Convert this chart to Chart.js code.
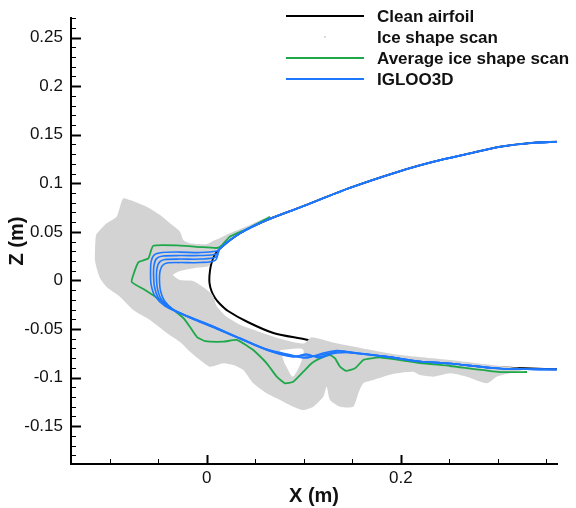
<!DOCTYPE html>
<html>
<head>
<meta charset="utf-8">
<script src="https://cdn.jsdelivr.net/npm/chart.js@4.4.1/dist/chart.umd.min.js"></script>
<style>
  html, body { margin: 0; padding: 0; background: #fff; }
  #wrap { width: 576px; height: 508px; }
</style>
</head>
<body>
<div id="wrap"><canvas id="iceChart" width="576" height="508"></canvas></div>
<script>
// Ejes (m)
const xLimits = [-0.14, 0.361];
const yLimits = [-0.189, 0.27];
const xLabelStep = 0.2;
const xMinorStep = 0.05;
const yLabelStep = 0.05;
const yMinorStep = 0.01;

const legendLabels = ["Clean airfoil", "Ice shape scan", "Average ice shape scan", "IGLOO3D"];

// Perfil limpio [x, z]
const cleanAirfoil = [
    [0.361, 0.1427], [0.3367, 0.1417], [0.3023, 0.1376], [0.268, 0.1301], [0.2336, 0.1222],
    [0.199, 0.1125], [0.148, 0.0955], [0.096, 0.0752], [0.062, 0.0622], [0.034, 0.0485],
    [0.0136, 0.033], [0.0074, 0.0251], [0.0043, 0.0158], [0.0028, 0.0056], [0.0028, -0.0027],
    [0.0048, -0.0109], [0.0085, -0.0181], [0.0136, -0.0243], [0.0219, -0.0315], [0.0411, -0.0423],
    [0.0686, -0.0541], [0.102, -0.0608], [0.15, -0.0715], [0.2, -0.0805], [0.25, -0.0858],
    [0.3, -0.0895], [0.361, -0.0915],
];

// Contorno del escaneo de hielo
const iceScanOutline = [
    [0.0600, 0.0642], [0.0394, 0.0549], [0.0219, 0.0477], [0.0136, 0.0436], [0.0064, 0.0405],
    [-0.0001, 0.0372], [-0.0173, 0.0382], [-0.0242, 0.0416], [-0.0276, 0.0501], [-0.0379, 0.0588],
    [-0.0482, 0.0673], [-0.0620, 0.0758], [-0.0792, 0.0827], [-0.0861, 0.0845], [-0.0895, 0.0758],
    [-0.0929, 0.0656], [-0.1032, 0.0588], [-0.1101, 0.0519], [-0.1142, 0.0467], [-0.1153, 0.0295],
    [-0.1153, 0.0210], [-0.1135, 0.0125], [-0.1101, 0.0025], [-0.1032, -0.0068], [-0.0895, -0.0168],
    [-0.0758, -0.0305], [-0.0586, -0.0408], [-0.0413, -0.0541], [-0.0276, -0.0634], [-0.0173, -0.0734],
    [-0.0070, -0.0819], [0.0033, -0.0888], [0.0170, -0.0853], [0.0273, -0.0871], [0.0376, -0.0922],
    [0.0479, -0.1059], [0.0618, -0.1162], [0.0755, -0.1231], [0.0892, -0.1300], [0.0995, -0.1334],
    [0.1098, -0.1300], [0.1201, -0.1197], [0.1236, -0.1094], [0.1270, -0.1231], [0.1373, -0.1300],
    [0.1510, -0.1300], [0.1562, -0.1162], [0.1613, -0.1059], [0.1716, -0.1025], [0.1820, -0.0991],
    [0.1958, -0.0956], [0.2129, -0.0940], [0.2198, -0.0974], [0.2335, -0.0991], [0.2507, -0.0956],
    [0.2679, -0.0991], [0.2886, -0.1059], [0.2989, -0.0991], [0.3126, -0.0956], [0.3280, -0.0912],
    [0.3023, -0.0881], [0.2507, -0.0819], [0.1992, -0.0768], [0.1579, -0.0695], [0.1300, -0.0640],
    [0.1080, -0.0585], [0.1000, -0.0650], [0.0755, -0.0600], [0.0548, -0.0530], [0.0342, -0.0455],
    [0.0188, -0.0360], [0.0100, -0.0260], [0.0060, -0.0150], [-0.0039, -0.0068], [-0.0142, -0.0006],
    [-0.0276, 0.0004], [-0.0348, 0.0056], [-0.0276, 0.0097], [-0.0122, 0.0128], [0.0023, 0.0148],
    [0.0054, 0.0231], [0.0095, 0.0313], [0.0219, 0.0416], [0.0394, 0.0508], [0.0600, 0.0621],
];

// Hueco blanco dentro del escaneo
const iceScanGap = [
    [0.0755, -0.0716], [0.0995, -0.0716], [0.0890, -0.0990], [0.0800, -0.0850],
];

// Forma de hielo promedio
const averageIceShape = [
    [0.0652, 0.0655], [0.0394, 0.0522], [0.0239, 0.0452], [0.0157, 0.0364], [0.0105, 0.0334],
    [-0.0070, 0.0344], [-0.0276, 0.0359], [-0.0552, 0.0357], [-0.0603, 0.0227], [-0.0706, 0.0186],
    [-0.0758, 0.0056], [-0.0774, -0.0016], [-0.0637, -0.0099], [-0.0482, -0.0202], [-0.0242, -0.0387],
    [-0.0173, -0.0480], [-0.0101, -0.0583], [-0.0019, -0.0624], [0.0170, -0.0631], [0.0308, -0.0613],
    [0.0428, -0.0682], [0.0479, -0.0716], [0.0618, -0.0853], [0.0721, -0.0991], [0.0806, -0.1059],
    [0.0892, -0.1043], [0.0995, -0.0940], [0.1081, -0.0853], [0.1167, -0.0802], [0.1270, -0.0768],
    [0.1322, -0.0802], [0.1373, -0.0888], [0.1435, -0.0932], [0.1528, -0.0905], [0.1613, -0.0819],
    [0.1700, -0.0802], [0.1786, -0.0793], [0.2198, -0.0850], [0.2507, -0.0881], [0.3023, -0.0943],
    [0.3301, -0.0943],
];

// IGLOO3D: tramo común del extradós y de la cola
const iglooUpper = [
    [0.361, 0.1427], [0.3367, 0.1417], [0.3023, 0.1376], [0.268, 0.1301], [0.2336, 0.1222],
    [0.199, 0.1125], [0.148, 0.0955], [0.096, 0.0752], [0.062, 0.0622], [0.034, 0.0485],
    [0.0136, 0.033],
];
const iglooTail = [
    [0.1889, -0.0790], [0.2198, -0.0835], [0.2507, -0.0855], [0.3023, -0.0907], [0.3607, -0.0917],
];
// IGLOO3D: cuatro cortes del cuerno
const iglooSliceA = [
    [0.0105, 0.0303], [-0.0070, 0.0287], [-0.0276, 0.0292], [-0.0462, 0.0287], [-0.0544, 0.0261],
    [-0.0575, 0.0189], [-0.0580, 0.0086], [-0.0575, -0.0037], [-0.0534, -0.0161], [-0.0431, -0.0263],
    [-0.0225, -0.0356], [0.0033, -0.0459], [0.0342, -0.0593], [0.0610, -0.0706], [0.0889, -0.0773],
    [0.1023, -0.0799], [0.1167, -0.0757], [0.1342, -0.0721], [0.1548, -0.0747],
];
const iglooSliceB = [
    [0.0100, 0.0272], [-0.0070, 0.0256], [-0.0276, 0.0256], [-0.0452, 0.0251], [-0.0519, 0.0225],
    [-0.0544, 0.0158], [-0.0549, 0.0056], [-0.0539, -0.0068], [-0.0498, -0.0181], [-0.0400, -0.0274],
    [-0.0194, -0.0372], [0.0064, -0.0474], [0.0353, -0.0603], [0.0621, -0.0711], [0.0889, -0.0778],
    [0.1023, -0.0790], [0.1167, -0.0768], [0.1342, -0.0737], [0.1548, -0.0752],
];
const iglooSliceC = [
    [0.0095, 0.0241], [-0.0070, 0.0220], [-0.0276, 0.0220], [-0.0431, 0.0215], [-0.0488, 0.0189],
    [-0.0513, 0.0128], [-0.0519, 0.0035], [-0.0508, -0.0089], [-0.0467, -0.0197], [-0.0369, -0.0289],
    [-0.0163, -0.0387], [0.0085, -0.0490], [0.0363, -0.0608], [0.0621, -0.0716], [0.0889, -0.0783],
    [0.1023, -0.0768], [0.1167, -0.0783], [0.1342, -0.0747], [0.1548, -0.0747],
];
const iglooSliceD = [
    [0.0090, 0.0210], [-0.0070, 0.0184], [-0.0276, 0.0184], [-0.0410, 0.0179], [-0.0457, 0.0153],
    [-0.0482, 0.0097], [-0.0488, 0.0004], [-0.0477, -0.0109], [-0.0436, -0.0212], [-0.0338, -0.0305],
    [-0.0132, -0.0402], [0.0105, -0.0500], [0.0373, -0.0613], [0.0631, -0.0721], [0.0889, -0.0788],
    [0.1023, -0.0757], [0.1167, -0.0799], [0.1342, -0.0727], [0.1548, -0.0752],
];

const BLACK = "#000000";
const GREEN = "#1fa84a";
const BLUE = "#1e78ff";
const GRAY = "#d3d3d3";
const FONT = "'Liberation Sans', Arial, Helvetica, sans-serif";

const toXY = (pts) => pts.map((p) => ({ x: p[0], y: p[1] }));
const onStep = (v, step) => Math.abs(v / step - Math.round(v / step)) < 1e-6;

function lineSet(label, pts, color, width, tension, order) {
    return {
        label: label,
        data: toXY(pts),
        showLine: true,
        borderColor: color,
        borderWidth: width,
        pointRadius: 0,
        tension: tension,
        fill: false,
        order: order,
    };
}

// Marcas de ejes hacia adentro y leyenda dentro del área
const axisAndLegend = {
    id: "axisAndLegend",
    afterDraw(chart) {
        const ctx = chart.ctx;
        const area = chart.chartArea;
        const xs = chart.scales.x;
        const ys = chart.scales.y;
        ctx.save();
        ctx.strokeStyle = "#000";
        xs.ticks.forEach((t) => {
            const major = onStep(t.value, xLabelStep);
            const px = Math.round(xs.getPixelForValue(t.value)) + 0.5;
            ctx.lineWidth = major ? 2 : 1;
            ctx.beginPath();
            ctx.moveTo(px, area.bottom);
            ctx.lineTo(px, area.bottom - (major ? 9 : 5));
            ctx.stroke();
        });
        ys.ticks.forEach((t) => {
            const major = onStep(t.value, yLabelStep);
            const py = Math.round(ys.getPixelForValue(t.value)) + 0.5;
            ctx.lineWidth = major ? 2 : 1;
            ctx.beginPath();
            ctx.moveTo(area.left, py);
            ctx.lineTo(area.left + (major ? 10 : 5), py);
            ctx.stroke();
        });

        const rows = [16, 37, 58, 79];
        const styles = [BLACK, null, GREEN, BLUE];
        ctx.font = "bold 17px " + FONT;
        ctx.textBaseline = "middle";
        ctx.textAlign = "left";
        rows.forEach((y, i) => {
            if (styles[i]) {
                ctx.strokeStyle = styles[i];
                ctx.lineWidth = 2;
                ctx.beginPath();
                ctx.moveTo(286, y);
                ctx.lineTo(364, y);
                ctx.stroke();
            } else {
                ctx.fillStyle = "#dcdcdc";
                ctx.fillRect(324, y - 1, 2, 2);
            }
            ctx.fillStyle = "#111";
            ctx.fillText(legendLabels[i], 377, y + 1);
        });
        ctx.restore();
    },
};

document.addEventListener("DOMContentLoaded", function () {
    const ctx = document.getElementById("iceChart").getContext("2d");
    const scanSet = lineSet(legendLabels[1], iceScanOutline, "rgba(0,0,0,0)", 0, 0.2, 5);
    scanSet.fill = "shape";
    scanSet.backgroundColor = GRAY;
    const gapSet = lineSet("gap", iceScanGap, "rgba(0,0,0,0)", 0, 0.3, 4);
    gapSet.fill = "shape";
    gapSet.backgroundColor = "#ffffff";

    new Chart(ctx, {
        type: "scatter",
        data: {
            datasets: [
                lineSet(legendLabels[3], iglooUpper.concat(iglooSliceA, iglooTail), BLUE, 1.6, 0.3, 0),
                lineSet(legendLabels[3], iglooUpper.concat(iglooSliceB, iglooTail), BLUE, 1.6, 0.3, 0),
                lineSet(legendLabels[3], iglooUpper.concat(iglooSliceC, iglooTail), BLUE, 1.6, 0.3, 0),
                lineSet(legendLabels[3], iglooUpper.concat(iglooSliceD, iglooTail), BLUE, 1.6, 0.3, 0),
                lineSet(legendLabels[2], averageIceShape, GREEN, 1.8, 0.15, 2),
                gapSet,
                scanSet,
                lineSet(legendLabels[0], cleanAirfoil, BLACK, 2, 0.3, 6),
            ],
        },
        options: {
            responsive: false,
            animation: false,
            events: [],
            layout: {
                padding: { top: 18, right: 19, left: 0, bottom: 0 },
            },
            plugins: {
                legend: { display: false },
                tooltip: { enabled: false },
            },
            scales: {
                x: {
                    type: "linear",
                    min: xLimits[0],
                    max: xLimits[1],
                    afterFit: (scale) => { scale.height = 44; },
                    grid: { drawOnChartArea: false, drawTicks: false },
                    border: { display: true, color: "#000", width: 2 },
                    ticks: {
                        stepSize: xMinorStep,
                        includeBounds: false,
                        autoSkip: false,
                        maxRotation: 0,
                        padding: 4,
                        color: "#111",
                        font: { size: 17, family: FONT },
                        callback: (v) => (onStep(v, xLabelStep) ? String(Math.round(v * 100) / 100) : ""),
                    },
                    title: {
                        display: true,
                        text: "X (m)",
                        color: "#111",
                        padding: { top: 1, bottom: 0 },
                        font: { size: 20, weight: "bold", family: FONT },
                    },
                },
                y: {
                    type: "linear",
                    min: yLimits[0],
                    max: yLimits[1],
                    afterFit: (scale) => { scale.width = 71; },
                    grid: { drawOnChartArea: false, drawTicks: false },
                    border: { display: true, color: "#000", width: 2 },
                    ticks: {
                        stepSize: yMinorStep,
                        includeBounds: false,
                        autoSkip: false,
                        padding: 8,
                        color: "#111",
                        font: { size: 17, family: FONT },
                        callback: (v) => (onStep(v, yLabelStep) ? String(Math.round(v * 100) / 100) : ""),
                    },
                    title: {
                        display: true,
                        text: "Z (m)",
                        color: "#111",
                        padding: { top: 5, bottom: 0 },
                        font: { size: 20, weight: "bold", family: FONT },
                    },
                },
            },
        },
        plugins: [axisAndLegend],
    });
});
</script>
</body>
</html>
